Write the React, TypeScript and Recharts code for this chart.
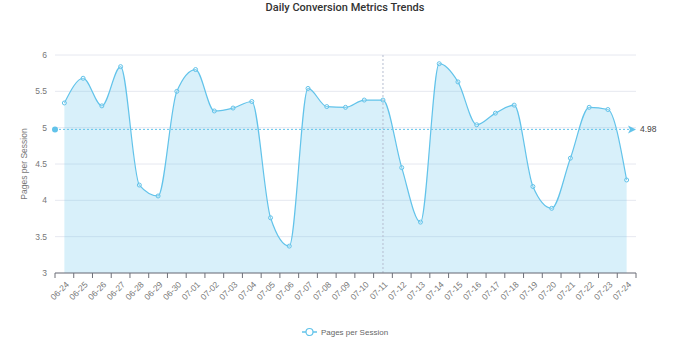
import {
  AreaChart,
  Area,
  XAxis,
  YAxis,
  CartesianGrid,
  ReferenceLine,
} from "recharts";

const dates = [
  "06-24", "06-25", "06-26", "06-27", "06-28", "06-29", "06-30",
  "07-01", "07-02", "07-03", "07-04", "07-05", "07-06", "07-07",
  "07-08", "07-09", "07-10", "07-11", "07-12", "07-13", "07-14",
  "07-15", "07-16", "07-17", "07-18", "07-19", "07-20", "07-21",
  "07-22", "07-23", "07-24",
];

const pagesPerSession = [
  5.34, 5.68, 5.3, 5.84, 4.21, 4.06, 5.5,
  5.8, 5.23, 5.27, 5.36, 3.76, 3.37, 5.54,
  5.29, 5.28, 5.38, 5.38, 4.45, 3.7, 5.88,
  5.63, 5.04, 5.2, 5.31, 4.19, 3.89, 4.58,
  5.28, 5.25, 4.28,
];

const yTicks = [3, 3.5, 4, 4.5, 5, 5.5, 6];
const pointerDate = "07-11";

const COLOR = "#62c3ea";
const FONT = "'Liberation Sans', Arial, sans-serif";
const HALF_BAND = 581 / 31 / 2;

const chartData = dates.map((d, i) => ({ date: d, pages: pagesPerSession[i] }));
const avg = pagesPerSession.reduce((a, b) => a + b, 0) / pagesPerSession.length;

function DateTick(props: any) {
  const { x, y, payload, index } = props;
  return (
    <g>
      <line x1={x - HALF_BAND} y1={y - 8} x2={x - HALF_BAND} y2={y - 3} stroke="#6e7079" />
      {index === dates.length - 1 && (
        <line x1={x + HALF_BAND} y1={y - 8} x2={x + HALF_BAND} y2={y - 3} stroke="#6e7079" />
      )}
      <text
        x={x + 3}
        y={y + 2}
        transform={`rotate(-45 ${x + 3} ${y + 2})`}
        textAnchor="end"
        dominantBaseline="central"
        fontSize={8.5}
        fill="#777"
        fontFamily={FONT}
      >
        {payload.value}
      </text>
    </g>
  );
}

function AvgLine(props: any) {
  const { x1, y1, x2, y2 } = props;
  return (
    <g>
      <line x1={x1} y1={y1} x2={x2 - 6} y2={y2} stroke={COLOR} strokeDasharray="2 2" />
      <circle cx={x1} cy={y1} r={3} fill={COLOR} />
      <path d={`M${x2 - 8},${y2 - 4} L${x2},${y2} L${x2 - 8},${y2 + 4} L${x2 - 6},${y2} Z`} fill={COLOR} />
      <text x={x2 + 4} y={y2} dominantBaseline="central" fontSize={8.5} fill="#444" fontFamily={FONT}>
        {avg.toFixed(2)}
      </text>
    </g>
  );
}

export default function App() {
  return (
    <div style={{ position: "absolute", left: 0, top: 0, width: 690, height: 355, background: "#fff", fontFamily: FONT }}>
      <div
        style={{
          position: "absolute",
          top: 1,
          left: 0,
          width: 690,
          textAlign: "center",
          fontSize: 11,
          fontWeight: 500,
          fontFamily: "Roboto, sans-serif",
          color: "#333",
        }}
      >
        Daily Conversion Metrics Trends
      </div>
      <AreaChart
        width={690}
        height={355}
        data={chartData}
        margin={{ top: 55, right: 54, left: 15, bottom: 42 }}
      >
        <CartesianGrid vertical={false} stroke="#e6e8f0" />
        <XAxis
          dataKey="date"
          interval={0}
          padding={{ left: HALF_BAND, right: HALF_BAND }}
          tickLine={false}
          stroke="#6e7079"
          height={40}
          tick={<DateTick />}
        />
        <YAxis
          domain={[3, 6]}
          ticks={yTicks}
          width={40}
          axisLine={false}
          tickLine={false}
          tick={{ fontSize: 8.5, fill: "#777", fontFamily: FONT }}
          label={{
            value: "Pages per Session",
            angle: -90,
            position: "insideLeft",
            offset: 9,
            style: { textAnchor: "middle", fontSize: 8.5, fill: "#777", fontFamily: FONT },
          }}
        />
        <ReferenceLine x={pointerDate} stroke="#b5bdd0" strokeDasharray="2 2" />
        <Area
          type="monotone"
          dataKey="pages"
          stroke={COLOR}
          strokeWidth={1.2}
          fill={COLOR}
          fillOpacity={0.25}
          dot={{ r: 2, stroke: COLOR, strokeWidth: 1, fill: "#fff" }}
          activeDot={false}
          isAnimationActive={false}
        />
        <ReferenceLine y={avg} shape={<AvgLine />} />
      </AreaChart>
      <div
        style={{
          position: "absolute",
          top: 327,
          left: 0,
          width: 690,
          display: "flex",
          justifyContent: "center",
          alignItems: "center",
          fontSize: 8,
          color: "#666",
        }}
      >
        <svg width={15} height={10} style={{ marginRight: 4 }}>
          <line x1={0} y1={5} x2={15} y2={5} stroke={COLOR} strokeWidth={1.5} />
          <circle cx={7.5} cy={5} r={3.5} fill="#fff" stroke={COLOR} strokeWidth={1.2} />
        </svg>
        Pages per Session
      </div>
    </div>
  );
}
